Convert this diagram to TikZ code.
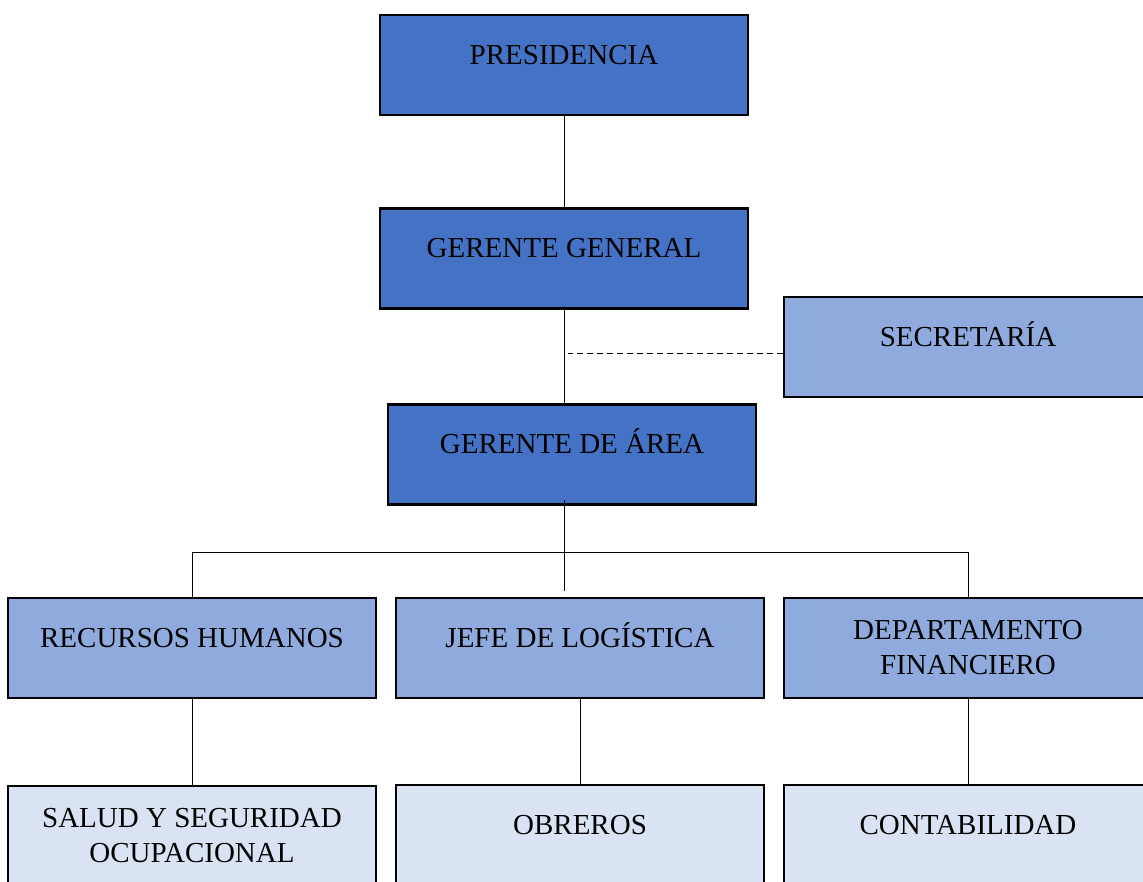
\documentclass[tikz,border=0pt]{standalone}
\usepackage{fontspec}
\setmainfont{Liberation Serif}
\definecolor{azulosc}{HTML}{4472C4}
\definecolor{azulmed}{HTML}{8FAADC}
\definecolor{azulcla}{HTML}{DAE3F3}

\begin{document}
\begin{tikzpicture}[
  x=1pt, y=-1pt,
  caja/.style={draw=black, line width=2.8pt, minimum width=368pt,
    minimum height=100pt, inner sep=0pt, align=center,
    font=\fontsize{29}{35}\selectfont},
  unalinea/.style={text height=20pt, text depth=22pt},
  nivela/.style={caja, fill=azulosc},
  nivelb/.style={caja, fill=azulmed},
  nivelc/.style={caja, fill=azulcla},
  enlace/.style={line width=0.9pt}]
  % marco de la imagen
  \useasboundingbox (0,0) rectangle (1143,881);
  \clip (0,0) rectangle (1143,881);

  % direccion
  \node[nivela, unalinea] (pres) at (564,65) {PRESIDENCIA};
  \node[nivela, unalinea] (gg) at (564,258.5) {GERENTE GENERAL};
  \node[nivelb, unalinea] (sec) at (968,347) {SECRETARÍA};
  \node[nivela, unalinea] (gda) at (572,454.5) {GERENTE DE ÁREA};

  % departamentos
  \node[nivelb, unalinea] (rrhh) at (192,648) {RECURSOS HUMANOS};
  \node[nivelb, unalinea] (jefe) at (580,648) {JEFE DE LOGÍSTICA};
  \node[nivelb] (depto) at (968,648) {DEPARTAMENTO\\FINANCIERO};

  % areas operativas
  \node[nivelc] (salud) at (192,836) {SALUD Y SEGURIDAD\\OCUPACIONAL};
  \node[nivelc, unalinea] (obreros) at (580,835) {OBREROS};
  \node[nivelc, unalinea] (contab) at (968,835) {CONTABILIDAD};

  % lineas de mando
  \draw[enlace] (pres.south) -- (gg.north);
  \draw[enlace] (gg.south) -- (gg.south |- gda.north);
  \draw[enlace, dash pattern=on 6pt off 4pt, shorten >=4pt]
    ([yshift=-6pt]sec.west) -- ([yshift=-6pt]sec.west -| gg.south);

  % reparto hacia los departamentos
  \coordinate (bus) at (564,552);
  \draw[enlace, shorten <=-6pt, shorten >=6pt] (bus |- gda.south) -- (bus |- jefe.north);
  \draw[enlace] (rrhh.north) -- (rrhh.north |- bus) -- (depto.north |- bus) -- (depto.north);

  % dependencias inferiores
  \draw[enlace] (rrhh.south) -- (salud.north);
  \draw[enlace] (jefe.south) -- (obreros.north);
  \draw[enlace] (depto.south) -- (contab.north);
\end{tikzpicture}
\end{document}
